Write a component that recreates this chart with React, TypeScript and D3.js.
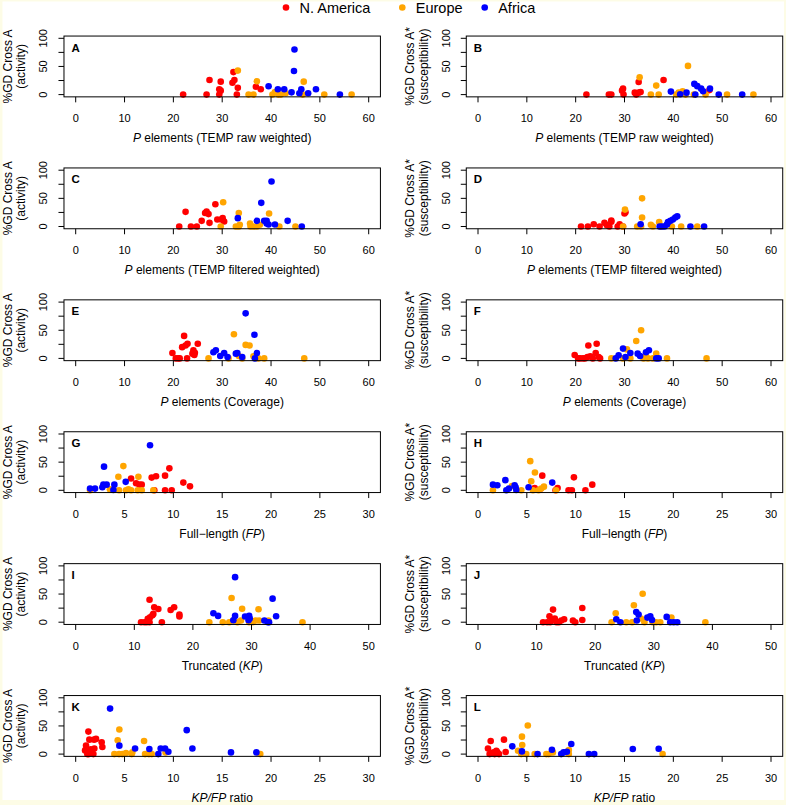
import React from "react";
import * as d3 from "d3";

type Pt = [number, number];

const regions = ["N. America", "Europe", "Africa"];
const regionColors = ["#ff0000", "#ffa500", "#0000ff"];

// A: TEMP raw weighted vs activity
const rawActNA: Pt[] = [[22.0,0],[26.8,0],[27.4,26],[29.4,0],[29.4,9.5],[29.7,23],[29.7,7],[32.3,40],[32.5,26],[32.1,21],[33.0,0],[33.2,12],[36.9,14],[37.9,9.5]];
const rawActEU: Pt[] = [[33.2,42.6],[35.4,0],[36.4,0],[37.1,23.7],[40.3,0],[40.8,4.7],[41.5,0],[42.0,0],[43.0,2.4],[46.5,0],[46.7,23],[50.9,0],[56.5,0]];
const rawActAF: Pt[] = [[39.5,14.8],[41.4,9.5],[42.7,9.5],[44.2,4],[44.7,42],[44.8,80],[45.8,2.4],[46.2,9.5],[47.6,2.4],[49.2,9.5],[54.1,0]];
// B: TEMP raw weighted vs susceptibility
const rawSusNA: Pt[] = [[22.2,0],[26.8,0],[27.3,0],[29.5,7],[29.7,10.6],[29.8,0],[32.1,3.5],[32.4,0],[32.9,3.5],[32.9,22.5],[33.3,4.7],[38.0,26],[47.4,8]];
const rawSusEU: Pt[] = [[33.1,30.8],[35.4,0],[36.5,16],[37.0,0],[40.6,0],[41.1,3.5],[41.9,6],[43.0,51],[44.2,0],[46.6,0],[51.0,0],[56.4,0],[42.5,0]];
const rawSusAF: Pt[] = [[39.5,5.3],[41.4,0.6],[42.7,3.5],[44.3,19],[44.9,15],[45.7,10.6],[46.1,6],[47.5,10.6],[49.3,0],[54.1,0],[44.5,0]];
// C: TEMP filtered weighted vs activity
const filtActNA: Pt[] = [[21.2,0],[22.5,26],[23.6,0],[24.8,0],[25.8,10],[26.5,24],[26.8,26.6],[27.2,22],[27.4,6.5],[28.6,39.6],[29.0,12.4],[29.8,12.4],[30.1,14.8],[30.4,8.9]];
const filtActEU: Pt[] = [[29.7,0],[30.2,43],[32.8,0],[33.4,0],[33.4,24],[33.6,3],[35.7,5.3],[35.8,0],[36.4,0],[37.1,0],[37.7,3],[39.6,23],[41.7,0],[45.0,0]];
const filtActAF: Pt[] = [[33.2,14.8],[37.1,10],[38.0,42],[38.6,10],[39.1,10],[39.5,3.5],[39.1,5.3],[40.1,80],[40.8,3.5],[43.4,10],[46.3,0]];
// D: TEMP filtered weighted vs susceptibility
const filtSusNA: Pt[] = [[21.1,0],[22.5,0],[23.7,4],[24.9,0],[25.9,6.5],[26.4,2.4],[26.9,0],[27.3,8.3],[27.3,10.6],[28.6,0],[29.0,4],[29.7,0],[30.0,23],[30.2,25.4]];
const filtSusEU: Pt[] = [[30.1,30],[29.7,0],[32.6,0],[33.4,0],[33.6,50],[33.6,16],[35.4,3],[35.8,0],[37.1,7.7],[37.4,0],[39.7,0],[41.6,0],[44.9,0]];
const filtSusAF: Pt[] = [[33.3,4],[37.2,0],[37.7,0],[38.2,0],[38.7,3.5],[38.9,7.7],[39.4,10],[39.9,12.4],[40.4,16],[40.8,18.3],[43.5,0],[46.3,0]];
// E: coverage vs activity
const covActNA: Pt[] = [[19.8,9.6],[20.5,0],[21.0,0],[21.3,0],[21.8,20],[22.2,40],[22.5,23],[22.8,0],[22.9,26],[23.9,8.4],[24.1,14.4],[24.4,10],[25.0,26],[24.3,6]];
const covActEU: Pt[] = [[27.2,0],[32.4,43],[31.3,0],[33.4,4.2],[34.1,0],[34.8,24],[35.6,23],[36.4,3.6],[37.4,0],[38.6,0],[46.8,0]];
const covActAF: Pt[] = [[28.2,10.8],[28.7,14.4],[29.6,4.2],[30.4,9.6],[31.1,2.4],[32.8,8.4],[33.1,9.6],[34.1,2.4],[34.8,80],[36.6,42],[36.7,0],[37.1,9.6]];
// F: coverage vs susceptibility
const covSusNA: Pt[] = [[19.8,6],[20.5,0],[20.9,0],[21.5,0],[21.9,0],[22.4,2.4],[22.6,23],[23.0,3.6],[23.5,0],[24.1,9.6],[24.3,26],[24.7,2.4],[25.0,0]];
const covSusEU: Pt[] = [[27.3,0],[30.5,16],[29.7,0],[31.2,0],[32.4,31],[33.4,50],[33.9,0],[34.4,3.6],[34.8,0],[35.8,0],[36.5,8.4],[38.7,0],[46.8,0]];
const covSusAF: Pt[] = [[28.2,0],[28.8,5.4],[29.7,17.4],[30.2,2.4],[31.2,9.6],[32.7,8.4],[33.2,4.2],[34.4,10.8],[35.0,14.4],[36.5,0],[37.0,0]];
// G: full-length vs activity
const fpActNA: Pt[] = [[5.67,21],[6.18,12.5],[6.52,10],[6.76,10],[7.78,22.6],[8.23,25],[8.05,0],[9.15,26],[9.15,0],[9.59,39],[9.83,0],[11.02,13.7],[11.7,7]];
const fpActEU: Pt[] = [[1.47,0],[3.5,1.8],[4.37,24],[4.44,0],[4.88,43],[5.15,0],[5.4,1.8],[5.67,0],[6.42,24],[6.35,0],[6.76,0],[7.95,0]];
const fpActAF: Pt[] = [[1.47,3],[1.98,3],[2.73,5.4],[2.83,10],[3.17,10],[2.9,42],[3.96,10],[3.86,0.6],[5.12,15],[7.61,80]];
// H: full-length vs susceptibility
const fpSusNA: Pt[] = [[5.8,4],[6.58,26],[6.3,1],[8.15,4],[7.94,0],[9.27,0],[9.61,0],[9.82,23],[11.0,0],[11.7,10]];
const fpSusEU: Pt[] = [[1.53,0],[3.48,7.7],[4.43,0],[5.35,51.8],[5.45,16],[5.83,31.5],[5.63,0],[6.2,0],[6.48,3],[6.75,6.5],[8.0,0]];
const fpSusAF: Pt[] = [[1.53,10],[1.98,9],[2.8,18],[2.9,0],[3.17,3],[3.75,9],[3.85,5.4],[3.92,0.6],[5.18,5.4],[7.6,13.7]];
// I: truncated vs activity
const kpActNA: Pt[] = [[11.15,0],[11.7,0],[12.1,0],[12.3,6],[12.6,40],[12.6,0],[12.7,8.8],[13.1,12.4],[13.25,14.7],[13.4,26.5],[14.1,23.5],[14.7,0],[16.2,21.8],[16.8,26.5],[17.7,13.5],[17.7,10]];
const kpActEU: Pt[] = [[22.8,0],[25.1,0],[26.2,0],[26.6,43],[26.9,3],[27.6,0],[28.4,24],[28.2,3],[29.6,0],[30.2,0],[30.7,3],[31.2,23],[31.3,3],[32.9,3],[38.7,0]];
const kpActAF: Pt[] = [[23.5,15.9],[24.3,11.2],[26.9,3.5],[27.2,11.2],[27.2,80],[28.9,10],[29.6,11.2],[29.5,3.5],[29.7,6.5],[32.2,3],[32.8,0],[33.0,0],[33.6,41.8],[34.2,10.6]];
// J: truncated vs susceptibility
const kpSusNA: Pt[] = [[11.1,0],[11.8,0],[12.2,10.6],[12.3,0],[12.8,22.4],[12.7,3.5],[13.1,6.5],[13.4,0],[13.8,0],[14.2,3],[14.7,5.3],[16.2,3],[16.6,0],[17.8,25.3],[17.8,4]];
const kpSusEU: Pt[] = [[22.8,0],[23.5,15.9],[25.3,0],[26.3,0],[26.6,30],[28.1,50.6],[27.8,6.5],[28.4,0],[29.8,0],[30.4,0],[31.1,0],[33.0,8.2],[38.8,0]];
const kpSusAF: Pt[] = [[23.6,5.3],[24.3,0],[27.0,18.2],[27.4,13.5],[27.1,3],[28.9,8.2],[29.4,10.6],[29.7,4],[32.2,9.4],[32.8,0],[33.4,0],[34.0,0]];
// K: KP/FP ratio vs activity
const ratioActNA: Pt[] = [[0.96,6.6],[1.06,15],[1.19,0],[1.3,40],[1.33,0],[1.4,25.7],[1.54,8.4],[1.47,1.8],[1.81,0],[1.88,25.7],[1.91,10],[2.08,27],[2.66,21],[2.73,12.6]];
const ratioActEU: Pt[] = [[3.96,0],[4.3,24.5],[4.47,43.7],[4.44,0],[4.78,0],[5.15,1.8],[5.73,0],[5.8,3],[7.0,23.4],[7.1,0],[7.5,0],[7.78,0],[9.2,3],[18.9,0]];
const ratioActAF: Pt[] = [[3.52,80.8],[4.47,15],[6.08,10],[7.54,9],[8.46,0],[8.7,10],[9.15,10],[9.49,4.2],[11.37,42.5],[11.95,10],[15.9,3],[18.5,3]];
// L: KP/FP ratio vs susceptibility
const ratioSusNA: Pt[] = [[1.02,10],[1.19,0],[1.3,23.4],[1.43,1.8],[1.6,3],[1.7,0],[1.88,6],[1.98,3],[2.15,0],[2.66,25.7],[2.83,3.6]];
const ratioSusEU: Pt[] = [[4.1,6],[4.5,31],[4.53,16],[5.1,50.9],[4.43,0],[4.94,0],[5.8,0],[7.0,0],[7.23,0],[7.67,3],[9.3,7.2],[9.3,0],[18.9,0]];
const ratioSusAF: Pt[] = [[3.51,13.8],[4.5,4.8],[6.1,0],[7.57,7.8],[8.52,0],[8.76,3],[9.1,4.2],[9.55,18],[11.35,0],[11.9,0],[15.85,9],[18.5,9.6]];

// x label pieces: [text, italic]
type Seg = [string, boolean];
const lblRaw: Seg[] = [["P", true], [" elements (TEMP raw weighted)", false]];
const lblFilt: Seg[] = [["P", true], [" elements (TEMP filtered weighted)", false]];
const lblCov: Seg[] = [["P", true], [" elements (Coverage)", false]];
const lblFP: Seg[] = [["Full\u2212length (", false], ["FP", true], [")", false]];
const lblKP: Seg[] = [["Truncated (", false], ["KP", true], [")", false]];
const lblRatio: Seg[] = [["KP/FP", true], [" ratio", false]];

const yLabels = [["%GD Cross A", "(activity)"], ["%GD Cross A*", "(susceptibility)"]];
const yTicks = [0, 25, 50, 75, 100];
const yTickLabels = [0, 50, 100];

const panels = [
  { letter: "A", xMax: 60, xStep: 10, xLabel: lblRaw, data: [rawActNA, rawActEU, rawActAF] },
  { letter: "B", xMax: 60, xStep: 10, xLabel: lblRaw, data: [rawSusNA, rawSusEU, rawSusAF] },
  { letter: "C", xMax: 60, xStep: 10, xLabel: lblFilt, data: [filtActNA, filtActEU, filtActAF] },
  { letter: "D", xMax: 60, xStep: 10, xLabel: lblFilt, data: [filtSusNA, filtSusEU, filtSusAF] },
  { letter: "E", xMax: 60, xStep: 10, xLabel: lblCov, data: [covActNA, covActEU, covActAF] },
  { letter: "F", xMax: 60, xStep: 10, xLabel: lblCov, data: [covSusNA, covSusEU, covSusAF] },
  { letter: "G", xMax: 30, xStep: 5, xLabel: lblFP, data: [fpActNA, fpActEU, fpActAF] },
  { letter: "H", xMax: 30, xStep: 5, xLabel: lblFP, data: [fpSusNA, fpSusEU, fpSusAF] },
  { letter: "I", xMax: 50, xStep: 10, xLabel: lblKP, data: [kpActNA, kpActEU, kpActAF] },
  { letter: "J", xMax: 50, xStep: 10, xLabel: lblKP, data: [kpSusNA, kpSusEU, kpSusAF] },
  { letter: "K", xMax: 30, xStep: 5, xLabel: lblRatio, data: [ratioActNA, ratioActEU, ratioActAF] },
  { letter: "L", xMax: 30, xStep: 5, xLabel: lblRatio, data: [ratioSusNA, ratioSusEU, ratioSusAF] },
];

const FONT = "'Liberation Sans', Arial, Helvetica, sans-serif";

function Panel({ p, i }: { p: typeof panels[number]; i: number }) {
  const col = i % 2;
  const row = Math.floor(i / 2);
  const x0 = 75.7 + 402.3 * col;   // pixel of x = 0
  const y100 = 38.3 + 131.9 * row; // pixel of y = 100
  const plotW = 293;
  const x = d3.scaleLinear()
    .domain([-0.04 * p.xMax, 1.04 * p.xMax])
    .range([x0 - 0.04 * plotW, x0 + 1.04 * plotW]);
  const y = d3.scaleLinear()
    .domain([-4, 104])
    .range([y100 + 56.3 * 1.04, y100 - 56.3 * 0.04]);
  const [left, right] = x.range();
  const [bottom, top] = y.range();
  const xTicks = d3.range(0, p.xMax + 0.001, p.xStep);
  const midX = (left + right) / 2;
  const midY = (top + bottom) / 2;
  const tick = 5.5;

  return (
    <g>
      {/* points */}
      {p.data.map((pts, k) => (
        <g key={k} fill={regionColors[k]}>
          {pts.map((d, j) => (
            <circle key={j} cx={x(d[0])} cy={y(d[1])} r={3.3} />
          ))}
        </g>
      ))}
      <rect x={left} y={top} width={right - left} height={bottom - top} fill="none" stroke="#000" strokeWidth={1} />
      <text x={left + 7.5} y={top + 15.5} fontSize={11.5} fontWeight="bold" fontFamily={FONT}>{p.letter}</text>

      {/* x axis */}
      {xTicks.map((t) => (
        <g key={t}>
          <line x1={x(t)} x2={x(t)} y1={bottom} y2={bottom + tick} stroke="#000" />
          <text x={x(t)} y={bottom + 25.5} textAnchor="middle" fontSize={11} fontFamily={FONT}>{t}</text>
        </g>
      ))}
      <text x={midX} y={bottom + 45.5} textAnchor="middle" fontSize={12} fontFamily={FONT}>
        {p.xLabel.map((s, k) => (
          <tspan key={k} fontStyle={s[1] ? "italic" : "normal"}>{s[0]}</tspan>
        ))}
      </text>

      {/* y axis */}
      {yTicks.map((t) => (
        <line key={t} x1={left - tick} x2={left} y1={y(t)} y2={y(t)} stroke="#000" />
      ))}
      {yTickLabels.map((t) => (
        <text key={t} transform={`translate(${left - 16.5},${y(t)}) rotate(-90)`} textAnchor="middle" fontSize={11} fontFamily={FONT}>{t}</text>
      ))}
      {yLabels[col].map((s, k) => (
        <text key={k} transform={`translate(${left - 52 + k * 13.5},${midY}) rotate(-90)`} textAnchor="middle" fontSize={12} fontFamily={FONT}>{s}</text>
      ))}
    </g>
  );
}

export default function App() {
  const legendX = [286, 402.3, 484.7];
  return (
    <svg width={786} height={805} style={{ position: "absolute", left: 0, top: 0 }}>
      <rect width={786} height={805} fill="#fdfce6" />
      <rect x={2.5} y={1.5} width={781.5} height={798.5} fill="#ffffff" />
      {regions.map((r, k) => (
        <g key={r}>
          <circle cx={legendX[k]} cy={7.5} r={3.3} fill={regionColors[k]} />
          <text x={legendX[k] + 13.5} y={12.8} fontSize={14.5} fontFamily={FONT}>{r}</text>
        </g>
      ))}
      {panels.map((p, i) => (
        <Panel key={p.letter} p={p} i={i} />
      ))}
    </svg>
  );
}
